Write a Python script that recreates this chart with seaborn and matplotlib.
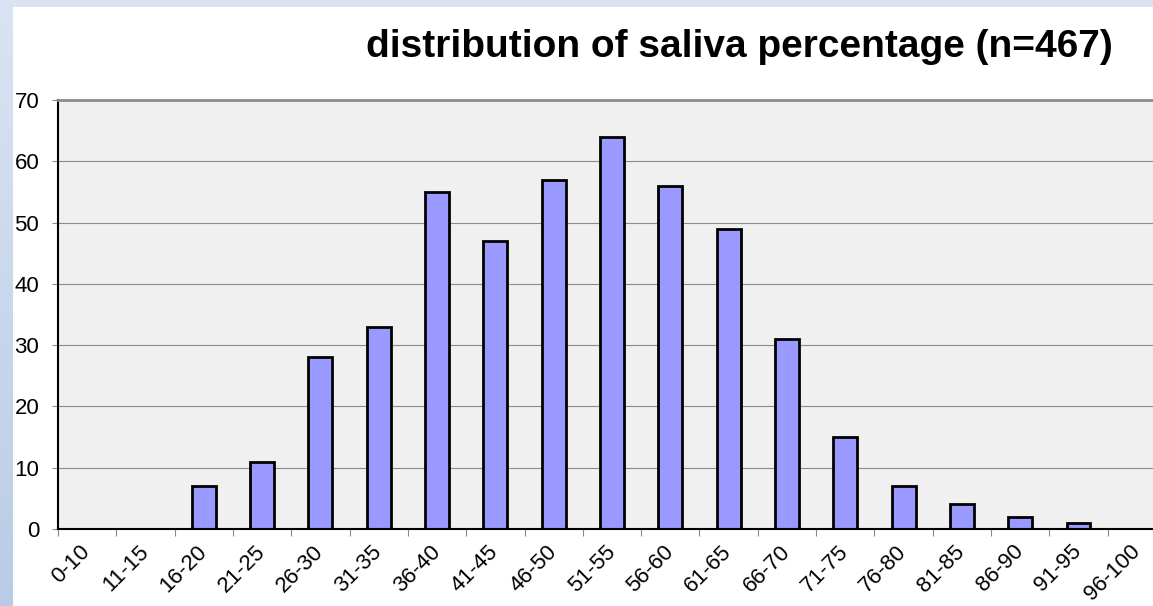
import numpy as np
import pandas as pd
import matplotlib
matplotlib.use("Agg")
import matplotlib.pyplot as plt
import seaborn as sns
from matplotlib.colors import LinearSegmentedColormap

categories = ["0-10", "11-15", "16-20", "21-25", "26-30", "31-35", "36-40", "41-45",
              "46-50", "51-55", "56-60", "61-65", "66-70", "71-75", "76-80", "81-85",
              "86-90", "91-95", "96-100"]
counts = [0, 0, 7, 11, 28, 33, 55, 47, 57, 64, 56, 49, 31, 15, 7, 4, 2, 1, 0]
y_ticks = [0, 10, 20, 30, 40, 50, 60, 70]
title = "distribution of saliva percentage (n=467)"

sns.set_style("white")
plt.rcParams['font.family'] = ['Liberation Sans', 'DejaVu Sans']
plt.rcParams['text.color'] = 'black'
plt.rcParams['xtick.color'] = 'black'
plt.rcParams['ytick.color'] = 'black'

W, H = 1153, 606
fig = plt.figure(figsize=(W / 100, H / 100), dpi=100)
fig.patch.set_facecolor("white")

# decorative slide-like border strips
top = fig.add_axes([0, 1 - 7 / H, 1, 7 / H])
top.set_axis_off()
top.add_patch(plt.Rectangle((0, 0), 1, 1, transform=top.transAxes, color="#dae3f3"))
left = fig.add_axes([0, 0, 13 / W, 1])
grad = np.linspace(0, 1, 256).reshape(-1, 1)
cmap = LinearSegmentedColormap.from_list("g", ["#dae3f3", "#b9cce6"])
left.imshow(grad, aspect="auto", cmap=cmap, extent=[0, 1, 1, 0])
left.set_axis_off()

ax = fig.add_axes([58 / W, 1 - 529 / H, 1108 / W, 429 / H])
df = pd.DataFrame({"range": categories, "count": counts})
sns.barplot(data=df, x="range", y="count", ax=ax, color="#9999ff",
            edgecolor="black", linewidth=2, width=0.41, saturation=1)
for p in ax.patches:
    p.set_facecolor("#9999ff")

ax.set_facecolor("#f0f0f0")
ax.set_xlim(-0.5, len(categories) - 0.5)
ax.set_ylim(0, 70)
ax.set_yticks(y_ticks)
ax.set_yticklabels([str(v) for v in y_ticks], fontsize=16, color="black")
ax.yaxis.grid(True, color="#8c8c8c", linewidth=0.8)
ax.set_axisbelow(True)
ax.tick_params(axis="y", which="major", length=4.5, width=0.8, color="#8c8c8c",
               direction="out", pad=9, left=True)

ax.set_xticks(range(len(categories)))
ax.set_xticklabels(categories, fontsize=16, rotation=45, ha="right",
                   va="center", rotation_mode="anchor", color="black")
ax.tick_params(axis="x", which="major", length=0, pad=14)
ax.set_xticks(np.arange(-0.5, len(categories), 1.0), minor=True)
ax.tick_params(axis="x", which="minor", length=5, width=0.8, color="#8c8c8c",
               direction="out", bottom=True)

ax.set_xlabel("")
ax.set_ylabel("")
for s in ["left", "bottom"]:
    ax.spines[s].set_color("black")
    ax.spines[s].set_linewidth(1.5)
ax.spines["top"].set_color("#8c8c8c")
ax.spines["top"].set_linewidth(2)
ax.spines["right"].set_color("#8c8c8c")

fig.text(739.5 / W, 1 - 57 / H, title, ha="center", va="baseline",
         fontsize=28, fontweight="bold", color="black")

fig.savefig("out.png", dpi=100)
